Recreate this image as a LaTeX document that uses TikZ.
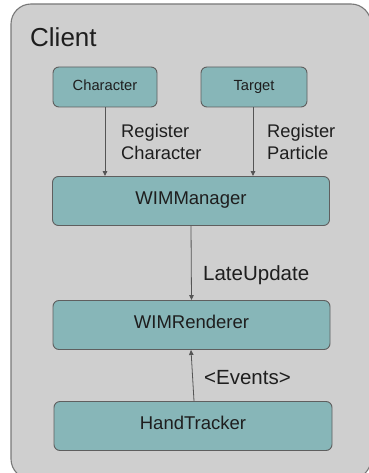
\documentclass[tikz,border=0pt]{standalone}
\usepackage{fontspec}
\setmainfont{Liberation Sans}
\usetikzlibrary{arrows.meta}
\definecolor{bgray}{RGB}{207,207,207}
\definecolor{teal1}{RGB}{135,182,184}
\definecolor{bord}{RGB}{95,95,95}
\definecolor{outer}{RGB}{120,120,120}
\definecolor{txt}{RGB}{30,30,30}
\definecolor{arr}{RGB}{85,85,85}
\begin{document}
\begin{tikzpicture}[x=1pt,y=-1pt,
  comp/.style={draw=bord,fill=teal1,rounded corners=6pt,line width=0.9pt,inner sep=0pt,text=txt,text height=0.716em,text depth=0pt,font=\fontsize{18.5}{20}\selectfont},
  smallcomp/.style={comp,font=\fontsize{14.7}{16}\selectfont},
  lbl/.style={inner sep=0pt,text=txt,align=left,font=\fontsize{18.3}{22}\selectfont},
  biglbl/.style={inner sep=0pt,text=txt,font=\fontsize{20.5}{22}\selectfont},
  conn/.style={draw=arr,line width=0.8pt,-{Triangle[length=5pt,width=4.5pt]}}]
\useasboundingbox (0,0) rectangle (368,473);
\draw[fill=bgray,draw=outer,line width=1.1pt,rounded corners=20pt] (11,4) rectangle (371,479);
\node[anchor=base west,inner sep=0pt,text=txt,font=\fontsize{26}{28}\selectfont] (client) at (30,47) {Client};
\node[smallcomp,minimum width=104pt,minimum height=40pt] (char) at (105,87) {Character};
\node[smallcomp,minimum width=106pt,minimum height=40pt] (targ) at (254,87) {Target};
\node[comp,minimum width=277pt,minimum height=49pt] (man) at (191,201) {WIMManager};
\node[comp,minimum width=277pt,minimum height=49pt] (ren) at (191.5,325) {WIMRenderer};
\node[comp,minimum width=278pt,minimum height=49pt] (hand) at (193,426) {HandTracker};
\draw[conn] (char.south) -- (char.south |- man.north);
\draw[conn] ([xshift=-1pt]targ.south) -- ([xshift=-1pt]targ.south |- man.north);
\draw[conn] (man.south) -- (ren.north);
\draw[conn] ([xshift=1pt]hand.north) -- ([xshift=-0.5pt]ren.south);
\node[lbl,anchor=base west] (l1) at (121,160) {Register\\Character};
\node[lbl,anchor=base west] (l2) at (267,160) {Register\\Particle};
\node[biglbl,anchor=west] (l3) at (203,275) {LateUpdate};
\node[biglbl,anchor=west] (l4) at (204,378) {<Events>};
\end{tikzpicture}
\end{document}
